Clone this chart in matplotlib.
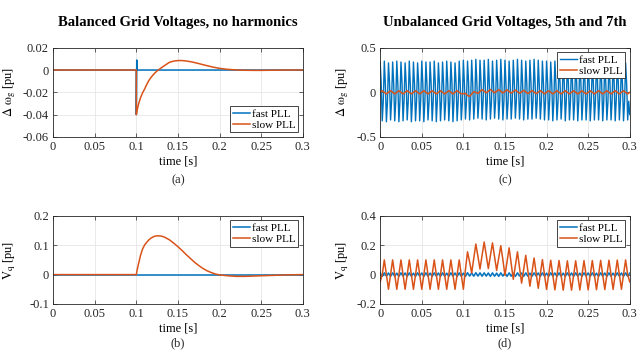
import numpy as np
import matplotlib
matplotlib.use('Agg')
import matplotlib.pyplot as plt

plt.rcParams['font.family'] = ['Liberation Serif', 'DejaVu Serif']
plt.rcParams['mathtext.fontset'] = 'stix'

BLUE = '#0072BD'
ORANGE = '#D95319'

# (a), (b): balanced grid, no harmonics
t_ab = [0.0, 0.1, 0.1, 0.1005, 0.101, 0.1025, 0.105, 0.1075, 0.11, 0.1125,
        0.115, 0.1175, 0.12, 0.1225, 0.125, 0.1275, 0.13, 0.1325, 0.135, 0.1375,
        0.14, 0.145, 0.15, 0.155, 0.16, 0.165, 0.17, 0.175, 0.18, 0.185,
        0.19, 0.195, 0.2, 0.21, 0.22, 0.23, 0.24, 0.25, 0.26, 0.27,
        0.28, 0.29, 0.3]

dw_fast_a = [0.0, 0.0, -0.04, 0.009, 0.0, 0.0, 0.0, 0.0, 0.0, 0.0,
             0.0, 0.0, 0.0, 0.0, 0.0, 0.0, 0.0, 0.0, 0.0, 0.0,
             0.0, 0.0, 0.0, 0.0, 0.0, 0.0, 0.0, 0.0, 0.0, 0.0,
             0.0, 0.0, 0.0, 0.0, 0.0, 0.0, 0.0, 0.0, 0.0, 0.0,
             0.0, 0.0, 0.0]
dw_slow_a = [0.0, 0.0, -0.04, -0.038, -0.036, -0.031, -0.025, -0.0205, -0.017, -0.013,
             -0.0095, -0.0068, -0.0045, -0.0025, -0.0008, 0.0006, 0.002, 0.0033, 0.0045, 0.0058,
             0.007, 0.008, 0.0085, 0.0085, 0.0081, 0.0075, 0.0067, 0.0058, 0.0048, 0.0039,
             0.003, 0.0022, 0.0015, 0.0006, 0.0001, -0.0002, -0.0003, -0.0003, -0.0002, -0.0001,
             0.0, 0.0, 0.0]

vq_fast_b = [0.0, 0.0, 0.0, 0.0, 0.0, 0.0, 0.0, 0.0, 0.0, 0.0,
             0.0, 0.0, 0.0, 0.0, 0.0, 0.0, 0.0, 0.0, 0.0, 0.0,
             0.0, 0.0, 0.0, 0.0, 0.0, 0.0, 0.0, 0.0, 0.0, 0.0,
             0.0, 0.0, 0.0, 0.0, 0.0, 0.0, 0.0, 0.0, 0.0, 0.0,
             0.0, 0.0, 0.0]
vq_slow_b = [0.0, 0.0, 0.0, 0.008, 0.016, 0.035, 0.065, 0.087, 0.101, 0.110,
             0.118, 0.124, 0.128, 0.131, 0.132, 0.132, 0.131, 0.129, 0.126, 0.122,
             0.118, 0.107, 0.095, 0.082, 0.068, 0.055, 0.042, 0.031, 0.021, 0.013,
             0.007, 0.002, -0.001, -0.004, -0.006, -0.006, -0.005, -0.004, -0.003, -0.002,
             -0.001, -0.0005, 0.0]

# (c), (d): unbalanced grid, 5th and 7th harmonics
t_fine = np.linspace(0, 0.3, 241)    # 1.25 ms steps
t_coarse = np.linspace(0, 0.3, 121)  # 2.5 ms steps

dw_fast_c = [
    0.34, 0.10, -0.32, -0.10, 0.35, 0.09, -0.33, -0.11, 0.33, 0.11, -0.31, -0.09, 0.34, 0.10, -0.32, -0.10, 0.35, 0.09, -0.33, -0.10,
    0.34, 0.11, -0.32, -0.09, 0.33, 0.10, -0.31, -0.10, 0.35, 0.09, -0.33, -0.11, 0.34, 0.10, -0.32, -0.10, 0.33, 0.11, -0.32, -0.09,
    0.35, 0.10, -0.33, -0.10, 0.34, 0.09, -0.31, -0.11, 0.34, 0.10, -0.32, -0.10, 0.35, 0.11, -0.33, -0.09, 0.33, 0.10, -0.32, -0.10,
    0.34, 0.09, -0.31, -0.11, 0.35, 0.10, -0.32, -0.10, 0.34, 0.11, -0.33, -0.09, 0.33, 0.10, -0.32, -0.10, 0.35, 0.09, -0.31, -0.12,
    0.36, 0.10, -0.30, -0.10, 0.35, 0.11, -0.31, -0.09, 0.36, 0.09, -0.30, -0.11, 0.37, 0.10, -0.29, -0.10, 0.36, 0.11, -0.30, -0.09,
    0.36, 0.10, -0.31, -0.10, 0.37, 0.09, -0.30, -0.11, 0.35, 0.10, -0.29, -0.10, 0.36, 0.11, -0.30, -0.09, 0.37, 0.10, -0.31, -0.10,
    0.36, 0.09, -0.30, -0.11, 0.35, 0.10, -0.30, -0.10, 0.36, 0.11, -0.29, -0.09, 0.37, 0.10, -0.30, -0.10, 0.36, 0.09, -0.31, -0.11,
    0.35, 0.10, -0.30, -0.10, 0.36, 0.11, -0.30, -0.09, 0.37, 0.10, -0.29, -0.10, 0.36, 0.09, -0.30, -0.11, 0.35, 0.10, -0.31, -0.10,
    0.35, 0.11, -0.31, -0.09, 0.34, 0.10, -0.32, -0.10, 0.35, 0.09, -0.31, -0.11, 0.36, 0.10, -0.30, -0.10, 0.35, 0.11, -0.32, -0.09,
    0.34, 0.10, -0.31, -0.10, 0.35, 0.09, -0.31, -0.11, 0.35, 0.10, -0.32, -0.10, 0.34, 0.11, -0.31, -0.09, 0.35, 0.10, -0.31, -0.10,
    0.36, 0.09, -0.32, -0.11, 0.34, 0.10, -0.31, -0.10, 0.35, 0.11, -0.31, -0.09, 0.35, 0.10, -0.32, -0.10, 0.34, 0.09, -0.31, -0.11,
    0.35, 0.10, -0.31, -0.10, 0.34, 0.11, -0.32, -0.09, 0.35, 0.10, -0.31, -0.10, 0.34, 0.09, -0.32, -0.11, 0.33, 0.10, -0.31, -0.10,
    -0.25]

dw_slow_c = [
    0.0, 0.018, 0.0, -0.018, 0.0, 0.018, 0.0, -0.018, 0.0, 0.018, 0.0, -0.018, 0.0, 0.018, 0.0, -0.018, 0.0, 0.018, 0.0, -0.018,
    0.0, 0.018, 0.0, -0.018, 0.0, 0.018, 0.0, -0.018, 0.0, 0.018, 0.0, -0.018, 0.0, 0.018, 0.0, -0.018, 0.0, 0.018, 0.0, -0.018,
    -0.015, -0.012, -0.035, -0.045, -0.02, 0.008, 0.0, -0.013, 0.01, 0.03, 0.012, -0.006, 0.013, 0.031, 0.013, -0.005, 0.012, 0.03, 0.011, -0.007,
    0.01, 0.028, 0.009, -0.009, 0.008, 0.025, 0.007, -0.011, 0.005, 0.022, 0.004, -0.014, 0.003, 0.02, 0.002, -0.016, 0.001, 0.019, 0.0, -0.017,
    0.0, 0.018, 0.0, -0.018, 0.0, 0.018, 0.0, -0.018, 0.0, 0.018, 0.0, -0.018, 0.0, 0.018, 0.0, -0.018, 0.0, 0.018, 0.0, -0.018,
    0.0, 0.018, 0.0, -0.018, 0.0, 0.018, 0.0, -0.018, 0.0, 0.018, 0.0, -0.018, 0.0, 0.018, 0.0, -0.018, 0.0, 0.018, 0.0, -0.018,
    0.0]

vq_fast_d = [
    0.010, -0.012, 0.012, -0.010, 0.011, -0.012, 0.012, -0.011, 0.010, -0.012, 0.012, -0.010, 0.011, -0.012, 0.012, -0.011, 0.010, -0.012, 0.012, -0.010,
    0.011, -0.012, 0.012, -0.011, 0.010, -0.012, 0.012, -0.010, 0.011, -0.012, 0.012, -0.011, 0.010, -0.012, 0.012, -0.010, 0.011, -0.012, 0.012, -0.011,
    0.010, -0.012, 0.013, -0.010, 0.012, -0.011, 0.013, -0.010, 0.012, -0.011, 0.012, -0.010, 0.011, -0.012, 0.012, -0.011, 0.010, -0.012, 0.012, -0.010,
    0.011, -0.012, 0.012, -0.011, 0.010, -0.012, 0.012, -0.010, 0.011, -0.012, 0.012, -0.011, 0.010, -0.012, 0.012, -0.010, 0.011, -0.012, 0.012, -0.011,
    0.010, -0.012, 0.012, -0.010, 0.011, -0.012, 0.012, -0.011, 0.010, -0.012, 0.012, -0.010, 0.011, -0.012, 0.012, -0.011, 0.010, -0.012, 0.012, -0.010,
    0.011, -0.012, 0.012, -0.011, 0.010, -0.012, 0.012, -0.010, 0.011, -0.012, 0.012, -0.011, 0.010, -0.012, 0.012, -0.010, 0.011, -0.012, 0.012, -0.011,
    0.010]

vq_slow_d = [
    -0.05, 0.0, 0.1, 0.0, -0.1, 0.0, 0.1, 0.0, -0.1, 0.0, 0.1, 0.0, -0.1, 0.0, 0.1, 0.0, -0.1, 0.0, 0.1, 0.0,
    -0.1, 0.0, 0.1, 0.0, -0.1, 0.0, 0.1, 0.0, -0.1, 0.0, 0.1, 0.0, -0.1, 0.0, 0.1, 0.0, -0.1, 0.0, 0.1, 0.0,
    -0.1, 0.035, 0.155, 0.087, 0.011, 0.110, 0.208, 0.124, 0.038, 0.131, 0.222, 0.132, 0.041, 0.129, 0.216, 0.122, 0.028, 0.113, 0.197, 0.101,
    -0.005, 0.088, 0.182, 0.075, -0.032, 0.061, 0.155, 0.048, -0.058, 0.036, 0.131, 0.026, -0.079, 0.017, 0.113, 0.010, -0.093, 0.004, 0.102, 0.0,
    -0.101, -0.002, 0.098, -0.003, -0.104, -0.004, 0.096, -0.005, -0.106, -0.006, 0.094, -0.006, -0.106, -0.006, 0.094, -0.005, -0.105, -0.005, 0.095, -0.004,
    -0.104, -0.004, 0.096, -0.003, -0.103, -0.003, 0.097, -0.002, -0.102, -0.002, 0.098, -0.001, -0.101, -0.001, 0.099, 0.0, -0.1, 0.0, 0.1, 0.0,
    -0.05]

x_ticks = [0, 0.05, 0.1, 0.15, 0.2, 0.25, 0.3]
x_labels = ['0', '0.05', '0.1', '0.15', '0.2', '0.25', '0.3']


def style_axes(ax, yticks, ylabels, ylabel, label_x):
    ax.set_xlim(0, 0.3)
    ax.set_ylim(yticks[0], yticks[-1])
    ax.set_xticks(x_ticks)
    ax.set_xticklabels(x_labels)
    ax.set_yticks(yticks)
    ax.set_yticklabels(ylabels)
    ax.tick_params(direction='in', length=3, width=0.5, top=True, right=True,
                   labelsize=9, colors='#262626', pad=3)
    for s in ax.spines.values():
        s.set_linewidth(0.6)
        s.set_color('#262626')
    ax.grid(True, color='#e6e6e6', linewidth=0.6)
    ax.set_axisbelow(True)
    ax.set_xlabel('time [s]', fontsize=9, labelpad=2)
    ax.set_ylabel(ylabel, fontsize=9)
    ax.yaxis.set_label_coords(label_x, 0.5)


def add_legend(ax, loc):
    leg = ax.legend(loc=loc, fontsize=8, frameon=True, fancybox=False,
                    framealpha=1, edgecolor='#262626', handlelength=1.5,
                    handletextpad=0.2, borderpad=0.25, labelspacing=0.1,
                    borderaxespad=0.4)
    leg.get_frame().set_linewidth(0.6)


fig = plt.figure(figsize=(6.4, 3.51), dpi=100)
ax_a = fig.add_axes([0.083, 0.610, 0.39, 0.254])
ax_c = fig.add_axes([0.594, 0.610, 0.39, 0.254])
ax_b = fig.add_axes([0.083, 0.134, 0.39, 0.251])
ax_d = fig.add_axes([0.594, 0.134, 0.39, 0.251])

dw_label = r'$\mathrm{\Delta\ \omega_g}$ [pu]'
vq_label = r'$\mathrm{V_q}$ [pu]'

ax_a.plot(t_ab, dw_fast_a, color=BLUE, lw=1.1, label='fast PLL')
ax_a.plot(t_ab, dw_slow_a, color=ORANGE, lw=1.1, label='slow PLL')
style_axes(ax_a, [-0.06, -0.04, -0.02, 0, 0.02],
           ['-0.06', '-0.04', '-0.02', '0', '0.02'], dw_label, -0.14)
add_legend(ax_a, 'lower right')
ax_a.set_title('Balanced Grid Voltages, no harmonics', fontsize=10.5,
               fontweight='bold', pad=16)

ax_b.plot(t_ab, vq_fast_b, color=BLUE, lw=1.1, label='fast PLL')
ax_b.plot(t_ab, vq_slow_b, color=ORANGE, lw=1.1, label='slow PLL')
style_axes(ax_b, [-0.1, 0, 0.1, 0.2], ['-0.1', '0', '0.1', '0.2'],
           vq_label, -0.14)
add_legend(ax_b, 'upper right')

ax_c.plot(t_fine, dw_fast_c, color=BLUE, lw=1.0, label='fast PLL')
ax_c.plot(t_coarse, dw_slow_c, color=ORANGE, lw=1.1, label='slow PLL')
style_axes(ax_c, [-0.5, 0, 0.5], ['-0.5', '0', '0.5'], dw_label, -0.116)
add_legend(ax_c, 'upper right')
ax_c.set_title('Unbalanced Grid Voltages, 5th and 7th', fontsize=10.5,
               fontweight='bold', pad=16)

ax_d.plot(t_coarse, vq_fast_d, color=BLUE, lw=1.1, label='fast PLL')
ax_d.plot(t_coarse, vq_slow_d, color=ORANGE, lw=1.1, label='slow PLL')
style_axes(ax_d, [-0.2, 0, 0.2, 0.4], ['-0.2', '0', '0.2', '0.4'],
           vq_label, -0.116)
add_legend(ax_d, 'upper right')

for ax, tag, y in [(ax_a, '(a)', 0.487), (ax_c, '(c)', 0.487),
                   (ax_b, '(b)', 0.022), (ax_d, '(d)', 0.022)]:
    pos = ax.get_position()
    fig.text(pos.x0 + pos.width / 2, y, tag, ha='center', va='center',
             fontsize=9, color='#262626')

fig.savefig('out.png', dpi=100)
